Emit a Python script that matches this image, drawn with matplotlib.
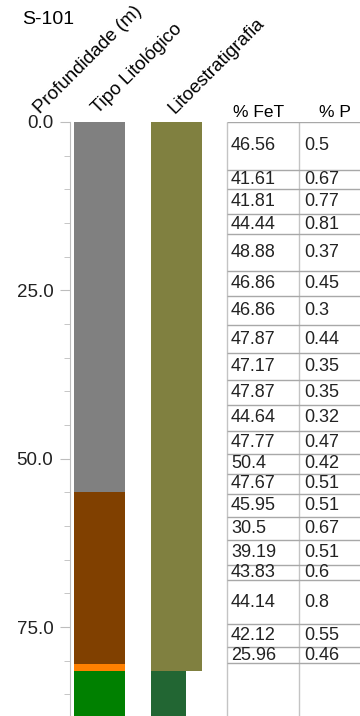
import matplotlib
matplotlib.use("Agg")
import matplotlib.pyplot as plt
from matplotlib.ticker import MultipleLocator, FormatStrFormatter

plt.rcParams["font.family"] = ["Liberation Sans", "DejaVu Sans"]

# ---- borehole data -------------------------------------------------------
well_name = "S-101"

# lithology intervals (depth top, depth base, colour)
litho_top = [0.0, 55.0, 80.5, 81.5]
litho_base = [55.0, 80.5, 81.5, 90.0]
litho_color = ["#808080", "#804000", "#ff8000", "#008000"]

# lithostratigraphic units
strat_top = [0.0, 81.5]
strat_base = [81.5, 90.0]
strat_color = ["#808040", "#226633"]

# assay sample intervals
sample_top = [0.0, 7.1, 10.0, 13.7, 16.7, 22.1, 25.8, 30.2, 34.3, 38.3, 42.0,
              45.9, 49.3, 52.2, 55.3, 58.7, 62.1, 65.8, 68.0, 74.6, 77.9]
sample_base = [7.1, 10.0, 13.7, 16.7, 22.1, 25.8, 30.2, 34.3, 38.3, 42.0, 45.9,
               49.3, 52.2, 55.3, 58.7, 62.1, 65.8, 68.0, 74.6, 77.9, 80.4]
fet = ["46.56", "41.61", "41.81", "44.44", "48.88", "46.86", "46.86", "47.87",
       "47.17", "47.87", "44.64", "47.77", "50.4", "47.67", "45.95", "30.5",
       "39.19", "43.83", "44.14", "42.12", "25.96"]
phos = ["0.5", "0.67", "0.77", "0.81", "0.37", "0.45", "0.3", "0.44", "0.35",
        "0.35", "0.32", "0.47", "0.42", "0.51", "0.51", "0.67", "0.51", "0.6",
        "0.8", "0.55", "0.46"]

col_titles = ["Profundidade (m)", "Tipo Litológico", "Litoestratigrafia"]
table_titles = ["% FeT", "% P"]

# ---- layout (figure pixels) ----------------------------------------------
W, H = 360, 716
TOP = 122
DEPTH_VIEW = 88.2

fig = plt.figure(figsize=(W / 100, H / 100), dpi=100)
ax = fig.add_axes([70 / W, 0, (W - 70) / W, (H - TOP) / H])
ax.set_xlim(70, W)
ax.set_ylim(DEPTH_VIEW, 0)

# lithology column
for t, b, c in zip(litho_top, litho_base, litho_color):
    ax.bar(99.5, b - t, bottom=t, width=51, color=c, linewidth=0)

# lithostratigraphy column (lower unit drawn narrower)
for i, (t, b, c) in enumerate(zip(strat_top, strat_base, strat_color)):
    w = 51 if i == 0 else 35
    ax.bar(150.7 + w / 2, b - t, bottom=t, width=w, color=c, linewidth=0)

# assay table
x_left, x_mid = 227, 299
ax.vlines([x_left, x_mid], 0, DEPTH_VIEW, color="#c4c4c4", linewidth=1)
bounds = sorted(set(sample_top) | set(sample_base))
ax.hlines(bounds, x_left, W, color="#a8a8a8", linewidth=1)
for t, b, f, p in zip(sample_top, sample_base, fet, phos):
    m = (t + b) / 2
    ax.text(231, m, f, fontsize=13, va="center", ha="left", color="#222222")
    ax.text(304, m, p, fontsize=13, va="center", ha="left", color="#222222")

# depth axis
for s in ("top", "right", "bottom"):
    ax.spines[s].set_visible(False)
ax.spines["left"].set_color("#bdbdbd")
ax.set_xticks([])
ax.yaxis.set_major_locator(MultipleLocator(25))
ax.yaxis.set_minor_locator(MultipleLocator(5))
ax.yaxis.set_major_formatter(FormatStrFormatter("%.1f"))
ax.tick_params(axis="y", which="major", length=7, color="#bdbdbd",
               labelsize=13.5, pad=5, labelcolor="#222222")
ax.tick_params(axis="y", which="minor", length=4, color="#bdbdbd")

# headings
fig.text(22 / W, 1 - 20 / H, well_name, fontsize=14, va="center", ha="left")
for (x, y), s in zip([(40, 114), (98, 114), (175, 114)], col_titles):
    fig.text(x / W, 1 - y / H, s, fontsize=13.5, rotation=45,
             rotation_mode="anchor", ha="left", va="baseline")
fig.text(233 / W, 1 - 117 / H, table_titles[0], fontsize=12.5, ha="left", va="baseline")
fig.text(319 / W, 1 - 117 / H, table_titles[1], fontsize=12.5, ha="left", va="baseline")

fig.savefig("out.png", dpi=100)
